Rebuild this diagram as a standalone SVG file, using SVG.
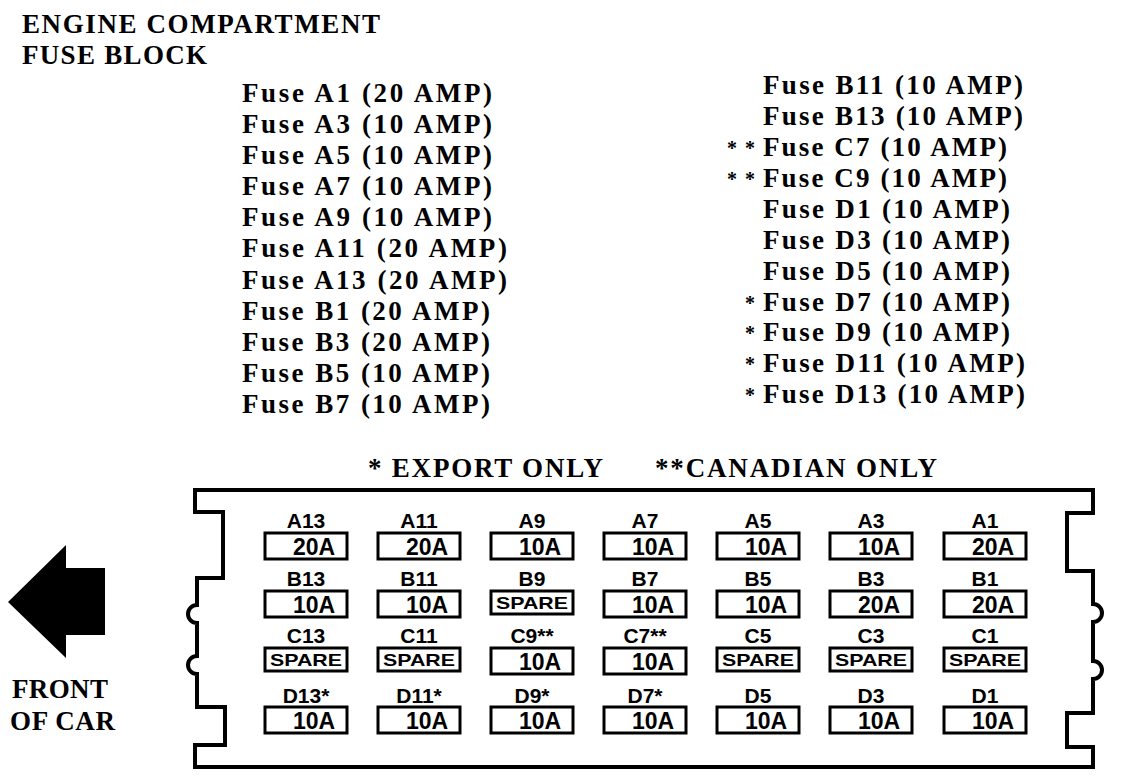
<svg xmlns="http://www.w3.org/2000/svg" width="1136" height="780" viewBox="0 0 1136 780">
<style>
.s{font-family:"Liberation Serif","Times New Roman",serif;font-weight:bold;font-size:27px;fill:#000}
.st{font-family:"Liberation Serif","Times New Roman",serif;font-weight:bold;font-size:20px;fill:#000}
.lb{font-family:"Liberation Sans",Arial,sans-serif;font-weight:bold;font-size:21px;fill:#000;text-anchor:middle}
.v{font-family:"Liberation Sans",Arial,sans-serif;font-weight:bold;font-size:23px;fill:#000;text-anchor:middle}
.sp{font-family:"Liberation Sans",Arial,sans-serif;font-weight:bold;font-size:17px;fill:#000;text-anchor:middle}
.bx{fill:#fff;stroke:#000;stroke-width:3}
.ol{fill:none;stroke:#000;stroke-width:4;stroke-linejoin:miter}
</style>
<rect width="1136" height="780" fill="#fff"/>
<g id="title">
<text class="s" x="22" y="33" textLength="358" lengthAdjust="spacing">ENGINE COMPARTMENT</text>
<text class="s" x="22" y="64" textLength="185" lengthAdjust="spacing">FUSE BLOCK</text>
</g>
<g id="list-left">
<text class="s" x="242" y="102" textLength="250" lengthAdjust="spacing">Fuse A1 (20 AMP)</text>
<text class="s" x="242" y="133" textLength="250" lengthAdjust="spacing">Fuse A3 (10 AMP)</text>
<text class="s" x="242" y="164" textLength="250" lengthAdjust="spacing">Fuse A5 (10 AMP)</text>
<text class="s" x="242" y="195" textLength="250" lengthAdjust="spacing">Fuse A7 (10 AMP)</text>
<text class="s" x="242" y="226" textLength="250" lengthAdjust="spacing">Fuse A9 (10 AMP)</text>
<text class="s" x="242" y="257" textLength="265" lengthAdjust="spacing">Fuse A11 (20 AMP)</text>
<text class="s" x="242" y="289" textLength="265" lengthAdjust="spacing">Fuse A13 (20 AMP)</text>
<text class="s" x="242" y="320" textLength="248" lengthAdjust="spacing">Fuse B1 (20 AMP)</text>
<text class="s" x="242" y="351" textLength="248" lengthAdjust="spacing">Fuse B3 (20 AMP)</text>
<text class="s" x="242" y="382" textLength="248" lengthAdjust="spacing">Fuse B5 (10 AMP)</text>
<text class="s" x="242" y="413" textLength="248" lengthAdjust="spacing">Fuse B7 (10 AMP)</text>
</g>
<g id="list-right">
<text class="s" x="763" y="94" textLength="260" lengthAdjust="spacing">Fuse B11 (10 AMP)</text>
<text class="s" x="763" y="125" textLength="260" lengthAdjust="spacing">Fuse B13 (10 AMP)</text>
<text class="st" x="727" y="155" textLength="28" lengthAdjust="spacing">**</text>
<text class="s" x="763" y="156" textLength="244" lengthAdjust="spacing">Fuse C7 (10 AMP)</text>
<text class="st" x="727" y="186" textLength="28" lengthAdjust="spacing">**</text>
<text class="s" x="763" y="187" textLength="244" lengthAdjust="spacing">Fuse C9 (10 AMP)</text>
<text class="s" x="763" y="218" textLength="247" lengthAdjust="spacing">Fuse D1 (10 AMP)</text>
<text class="s" x="763" y="249" textLength="247" lengthAdjust="spacing">Fuse D3 (10 AMP)</text>
<text class="s" x="763" y="280" textLength="247" lengthAdjust="spacing">Fuse D5 (10 AMP)</text>
<text class="st" x="745" y="310">*</text>
<text class="s" x="763" y="311" textLength="247" lengthAdjust="spacing">Fuse D7 (10 AMP)</text>
<text class="st" x="745" y="340">*</text>
<text class="s" x="763" y="341" textLength="247" lengthAdjust="spacing">Fuse D9 (10 AMP)</text>
<text class="st" x="745" y="371">*</text>
<text class="s" x="763" y="372" textLength="262" lengthAdjust="spacing">Fuse D11 (10 AMP)</text>
<text class="st" x="745" y="402">*</text>
<text class="s" x="763" y="403" textLength="262" lengthAdjust="spacing">Fuse D13 (10 AMP)</text>
</g>
<g id="legend">
<text class="s" x="368" y="477" textLength="235" lengthAdjust="spacing">* EXPORT ONLY</text>
<text class="s" x="655" y="477" textLength="282" lengthAdjust="spacing">**CANADIAN ONLY</text>
</g>
<g id="front-of-car">
<polygon points="8,602 66,545 66,568 105,568 105,635 66,635 66,658" fill="#000"/>
<text class="s" x="12" y="698" textLength="96" lengthAdjust="spacing">FRONT</text>
<text class="s" x="10" y="730" textLength="105" lengthAdjust="spacing">OF CAR</text>
</g>
<g id="housing">
<path class="ol" d="M195,490 H1093 V513 H1067 V571 H1093 V604 A9,9 0 0 1 1093,622 V661 A9,9 0 0 1 1093,679 V713 H1067 V747 H1093 V767 H195 V745 H225 V707 H197 V674 A9,9 0 0 1 197,656 V623 A9,9 0 0 1 197,605 V578 H223 V512 H195 Z"/>
</g>
<g id="fuses">
<g id="fA13"><text class="lb" x="306" y="528">A13</text><rect class="bx" x="265" y="533" width="82" height="26"/><text class="v" x="314" y="555">20A</text></g>
<g id="fA11"><text class="lb" x="419" y="528">A11</text><rect class="bx" x="378" y="533" width="82" height="26"/><text class="v" x="427" y="555">20A</text></g>
<g id="fA9"><text class="lb" x="532" y="528">A9</text><rect class="bx" x="491" y="533" width="82" height="26"/><text class="v" x="540" y="555">10A</text></g>
<g id="fA7"><text class="lb" x="645" y="528">A7</text><rect class="bx" x="604" y="533" width="82" height="26"/><text class="v" x="653" y="555">10A</text></g>
<g id="fA5"><text class="lb" x="758" y="528">A5</text><rect class="bx" x="717" y="533" width="82" height="26"/><text class="v" x="766" y="555">10A</text></g>
<g id="fA3"><text class="lb" x="871" y="528">A3</text><rect class="bx" x="830" y="533" width="82" height="26"/><text class="v" x="879" y="555">10A</text></g>
<g id="fA1"><text class="lb" x="985" y="528">A1</text><rect class="bx" x="944" y="533" width="82" height="26"/><text class="v" x="993" y="555">20A</text></g>

<g id="fB13"><text class="lb" x="306" y="586">B13</text><rect class="bx" x="265" y="591" width="82" height="26"/><text class="v" x="314" y="613">10A</text></g>
<g id="fB11"><text class="lb" x="419" y="586">B11</text><rect class="bx" x="378" y="591" width="82" height="26"/><text class="v" x="427" y="613">10A</text></g>
<g id="fB9"><text class="lb" x="532" y="586">B9</text><rect class="bx" x="491" y="591" width="82" height="23"/><text class="sp" x="532" y="609" textLength="72" lengthAdjust="spacingAndGlyphs">SPARE</text></g>
<g id="fB7"><text class="lb" x="645" y="586">B7</text><rect class="bx" x="604" y="591" width="82" height="26"/><text class="v" x="653" y="613">10A</text></g>
<g id="fB5"><text class="lb" x="758" y="586">B5</text><rect class="bx" x="717" y="591" width="82" height="26"/><text class="v" x="766" y="613">10A</text></g>
<g id="fB3"><text class="lb" x="871" y="586">B3</text><rect class="bx" x="830" y="591" width="82" height="26"/><text class="v" x="879" y="613">20A</text></g>
<g id="fB1"><text class="lb" x="985" y="586">B1</text><rect class="bx" x="944" y="591" width="82" height="26"/><text class="v" x="993" y="613">20A</text></g>

<g id="fC13"><text class="lb" x="306" y="643">C13</text><rect class="bx" x="265" y="648" width="82" height="23"/><text class="sp" x="306" y="666" textLength="72" lengthAdjust="spacingAndGlyphs">SPARE</text></g>
<g id="fC11"><text class="lb" x="419" y="643">C11</text><rect class="bx" x="378" y="648" width="82" height="23"/><text class="sp" x="419" y="666" textLength="72" lengthAdjust="spacingAndGlyphs">SPARE</text></g>
<g id="fC9"><text class="lb" x="532" y="643">C9**</text><rect class="bx" x="491" y="648" width="82" height="26"/><text class="v" x="540" y="670">10A</text></g>
<g id="fC7"><text class="lb" x="645" y="643">C7**</text><rect class="bx" x="604" y="648" width="82" height="26"/><text class="v" x="653" y="670">10A</text></g>
<g id="fC5"><text class="lb" x="758" y="643">C5</text><rect class="bx" x="717" y="648" width="82" height="23"/><text class="sp" x="758" y="666" textLength="72" lengthAdjust="spacingAndGlyphs">SPARE</text></g>
<g id="fC3"><text class="lb" x="871" y="643">C3</text><rect class="bx" x="830" y="648" width="82" height="23"/><text class="sp" x="871" y="666" textLength="72" lengthAdjust="spacingAndGlyphs">SPARE</text></g>
<g id="fC1"><text class="lb" x="985" y="643">C1</text><rect class="bx" x="944" y="648" width="82" height="23"/><text class="sp" x="985" y="666" textLength="72" lengthAdjust="spacingAndGlyphs">SPARE</text></g>

<g id="fD13"><text class="lb" x="306" y="703">D13*</text><rect class="bx" x="265" y="707" width="82" height="26"/><text class="v" x="314" y="729">10A</text></g>
<g id="fD11"><text class="lb" x="419" y="703">D11*</text><rect class="bx" x="378" y="707" width="82" height="26"/><text class="v" x="427" y="729">10A</text></g>
<g id="fD9"><text class="lb" x="532" y="703">D9*</text><rect class="bx" x="491" y="707" width="82" height="26"/><text class="v" x="540" y="729">10A</text></g>
<g id="fD7"><text class="lb" x="645" y="703">D7*</text><rect class="bx" x="604" y="707" width="82" height="26"/><text class="v" x="653" y="729">10A</text></g>
<g id="fD5"><text class="lb" x="758" y="703">D5</text><rect class="bx" x="717" y="707" width="82" height="26"/><text class="v" x="766" y="729">10A</text></g>
<g id="fD3"><text class="lb" x="871" y="703">D3</text><rect class="bx" x="830" y="707" width="82" height="26"/><text class="v" x="879" y="729">10A</text></g>
<g id="fD1"><text class="lb" x="985" y="703">D1</text><rect class="bx" x="944" y="707" width="82" height="26"/><text class="v" x="993" y="729">10A</text></g>
</g>
</svg>
